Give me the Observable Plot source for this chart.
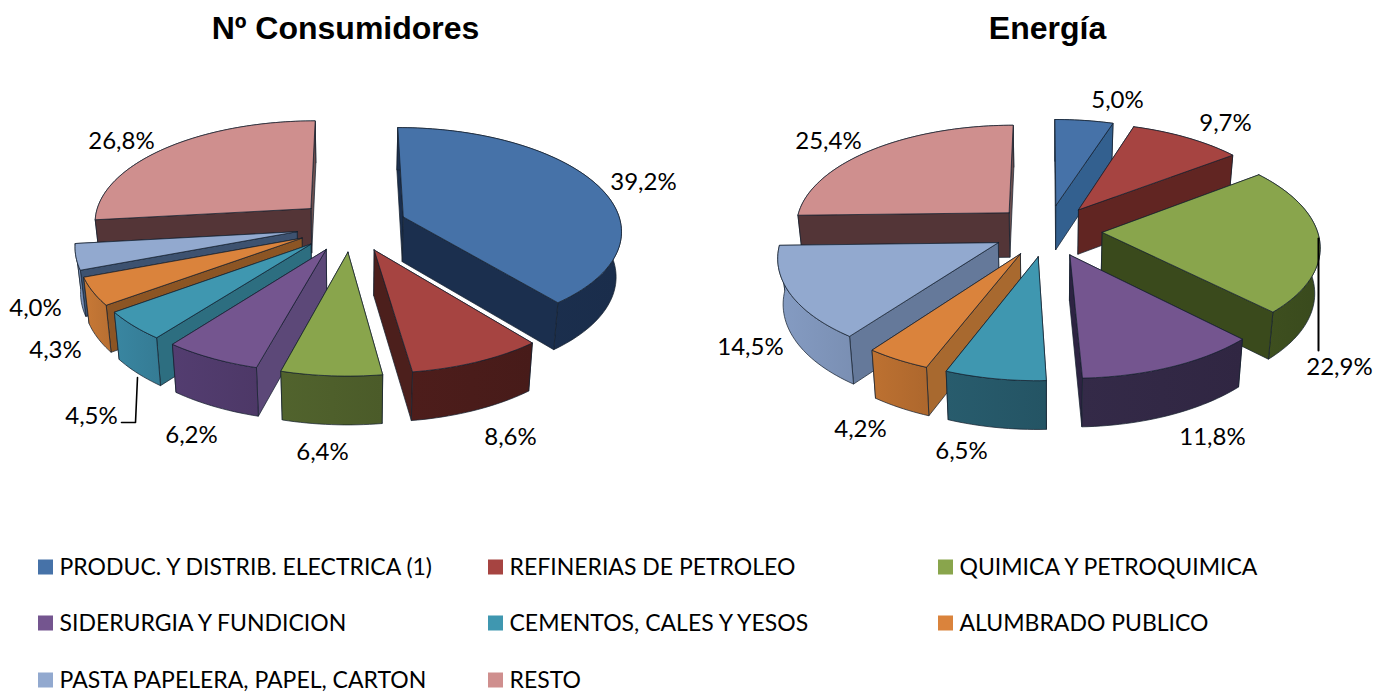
<!DOCTYPE html>
<html lang="es">
<head>
<meta charset="utf-8">
<style>html,body{margin:0;padding:0;background:#fff}svg{display:block}</style>
<script src="https://cdn.jsdelivr.net/npm/d3@7"></script>
<script src="https://cdn.jsdelivr.net/npm/@observablehq/plot@0.6"></script>
</head>
<body>
<div id="chart"></div>
<script>
// ---- data ----
const categories = ["PRODUC. Y DISTRIB. ELECTRICA (1)","REFINERIAS DE PETROLEO","QUIMICA Y PETROQUIMICA","SIDERURGIA Y FUNDICION","CEMENTOS, CALES Y YESOS","ALUMBRADO PUBLICO","PASTA PAPELERA, PAPEL, CARTON","RESTO"];
const consumidores = [39.2, 8.6, 6.4, 6.2, 4.5, 4.3, 4.0, 26.8];
const energia = [5.0, 9.7, 22.9, 11.8, 6.5, 4.2, 14.5, 25.4];
const titles = ["Nº Consumidores", "Energía"];

// ---- styles ----
const topColors = ["#4672A8","#A64441","#89A54C","#74558F","#3F97B0","#DA833C","#92A9CF","#CF8F8E"];
const wallsLeft = {
  outer: ["#1B2F4E","#4A1C1A","#4E5F2B","#503A6B","#37809A","#C07434","#7C93BC","#7A4C4C"],
  start: ["#1B2F4E","#4A1C1A","#4E5F2B","#5C4878","#2D6E80","#8C5524","#3D5270","#543537"],
  end:   ["#1B2F4E","#4C1F1C","#4E5F2B","#503A6B","#37809A","#C07434","#7C93BC","#6B5050"]
};
const wallsRight = {
  outer: ["#33608F","#612522","#3C4D1E","#322845","#265868","#B56C2F","#7F95BB","#7A4C4C"],
  start: ["#33608F","#612522","#3A4A1C","#322845","#265868","#A8692F","#65799A","#533537"],
  end:   ["#33608F","#612522","#3A4A1C","#2D2342","#265868","#B56C2F","#7F95BB","#6B5050"]
};

// ---- layout ----
const W = 1387, H = 695;
const K = 102, EXPLODE = 55 / 216, PERSP = 0.12, BASE = 45, BOTTOM_SCALE = 0.98;
const pies = [
  {key:"L", values:consumidores, R:218, cx:351, cy:225, walls:wallsLeft, titleX:345,
   lx:[643,510,322,191,91,55,35,121], ly:[182,437,452,435,416,350,308,141],
   leader:[[137,377],[135,422],[121,422]]},
  {key:"R", values:energia, R:215, cx:1047, cy:230, walls:wallsRight, titleX:1047,
   lx:[1117,1225,1339,1212,961,860,750,828], ly:[100,123,367,437,451,429,347,141],
   leader:[[1318,238],[1318,350]]}
];
const legendRows = [567,623,680], legendCols = [38,488,938], SWATCH = 15, TEXT_GAP = 21;

const fmt = v => v.toFixed(1).replace(".", ",") + "%";
const rad = d => d * Math.PI / 180;

function buildPie(p) {
  const total = d3.sum(p.values);
  let acc = 0;
  const slices = p.values.map((v, i) => {
    const a0 = acc / total * 360; acc += v; const a1 = acc / total * 360;
    const mid = rad((a0 + a1) / 2);
    const ex = EXPLODE * Math.sin(mid), ey = -EXPLODE * Math.cos(mid);
    const top = (X, Y) => {
      const s = 1 / (1 - PERSP * Y);
      return {x: p.cx + p.R * X * s, y: p.cy + K * Y * s, s};
    };
    const onRim = a => top(ex + Math.sin(rad(a)), ey - Math.cos(rad(a)));
    const apex = top(ex, ey);
    const down = q => ({x: p.cx + (q.x - p.cx) * BOTTOM_SCALE, y: q.y + BASE * Math.sqrt(q.s)});
    const n = Math.max(2, Math.ceil((a1 - a0) / 1.5));
    const rim = d3.range(n + 1).map(j => onRim(a0 + (a1 - a0) * j / n));
    const rimLow = rim.map(down);
    const close = pts => [...pts, pts[0]];
    const wall = (a, b) => close([a, b, down(b), down(a)]);
    const meanY = pts => d3.mean(pts, q => q.y);
    const startW = wall(apex, rim[0]), endW = wall(apex, rim[n]);
    const outerW = close([...rim, ...rimLow.slice().reverse()]);
    const walls = [
      {pts:startW, fill:p.walls.start[i]},
      {pts:endW, fill:p.walls.end[i]},
      {pts:outerW, fill:`url(#w${p.key}${i})`}
    ].sort((a, b) => meanY(a.pts) - meanY(b.pts));
    return {i, order:-Math.cos(mid), walls, top:close([apex, ...rim]), outerColor:p.walls.outer[i]};
  });
  return slices.sort((a, b) => a.order - b.order);
}

const built = pies.map(p => ({p, slices:buildPie(p)}));

// gradients for the curved outer walls, passed to Plot as a render mark
const defsMark = () => {
  const defs = d3.create("svg:defs");
  built.forEach(({p, slices}) => slices.forEach(s => {
    const g = defs.append("linearGradient").attr("id", `w${p.key}${s.i}`);
    g.append("stop").attr("offset", "0%").attr("stop-color", d3.color(s.outerColor).brighter(0.12).formatHex());
    g.append("stop").attr("offset", "100%").attr("stop-color", d3.color(s.outerColor).darker(0.12).formatHex());
  }));
  return defs.node();
};

const EDGE = {stroke:"#15202e", strokeWidth:0.9, strokeOpacity:0.8, strokeLinejoin:"round", curve:"linear"};
const polygon = (pts, fill) => Plot.line(pts, {x:"x", y:"y", fill, ...EDGE});

const marks = [defsMark];
built.forEach(({p, slices}) => {
  slices.forEach(s => {
    s.walls.forEach(w => marks.push(polygon(w.pts, w.fill)));
    marks.push(polygon(s.top, topColors[s.i]));
  });
});
// leader lines
built.forEach(({p}) => {
  const pts = p.leader.map(([x, y]) => ({x, y}));
  marks.push(Plot.line(pts, {x:"x", y:"y", stroke:"#000", strokeWidth:p.key === "R" ? 2 : 1.6, curve:"linear"}));
});
// value labels
const LABEL_FONT = "Lato, 'Open Sans', sans-serif";
built.forEach(({p}) => {
  const rows = p.values.map((v, i) => ({x:p.lx[i], y:p.ly[i], t:fmt(v)}));
  marks.push(Plot.text(rows, {x:"x", y:"y", text:"t", fontSize:24, fontFamily:LABEL_FONT, fill:"#000", textAnchor:"middle", lineAnchor:"middle"}));
});
// titles
marks.push(Plot.text(pies.map((p, i) => ({x:p.titleX, y:28, t:titles[i]})), {
  x:"x", y:"y", text:"t", fontSize:32, fontWeight:"bold", fontFamily:"'Liberation Sans', Arial, sans-serif", fill:"#000", textAnchor:"middle", lineAnchor:"middle"}));
// legend
const legend = categories.map((c, i) => ({
  c, i,
  x:legendCols[i % 3],
  y:legendRows[Math.floor(i / 3)]
}));
marks.push(Plot.rect(legend, {x1:"x", x2:d => d.x + SWATCH, y1:d => d.y - SWATCH / 2, y2:d => d.y + SWATCH / 2, fill:d => topColors[d.i]}));
marks.push(Plot.text(legend, {x:d => d.x + TEXT_GAP, y:"y", text:"c", fontSize:23, fontFamily:LABEL_FONT, fill:"#000", textAnchor:"start", lineAnchor:"middle"}));

const chart = Plot.plot({
  width:W, height:H,
  margin:0,
  x:{domain:[0, W], range:[0, W], axis:null},
  y:{domain:[0, H], range:[0, H], axis:null},
  color:{type:"identity"},
  style:{background:"#fff"},
  marks
});
document.getElementById("chart").appendChild(chart);
</script>
</body>
</html>
